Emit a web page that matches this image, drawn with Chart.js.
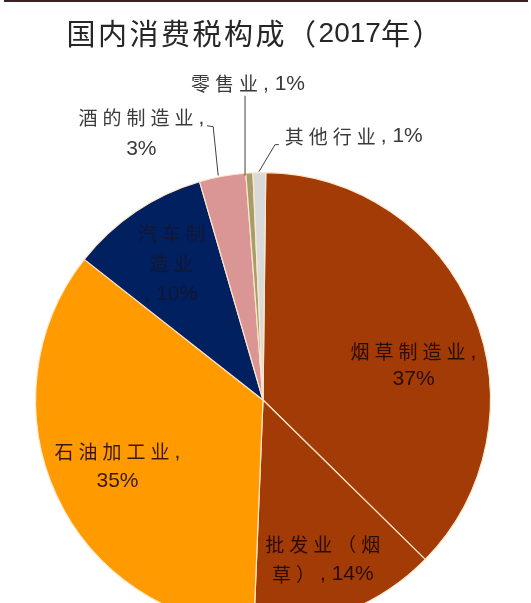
<!DOCTYPE html>
<html>
<head>
<meta charset="utf-8">
<script src="https://cdn.jsdelivr.net/npm/chart.js@4/dist/chart.umd.min.js"></script>
<style>
  html, body { margin: 0; padding: 0; background: #fff; overflow: hidden; }
  #wrap { position: relative; width: 531px; height: 640px; }
  #topline { position: absolute; left: 4px; right: 3px; top: 0; height: 2px; background: #3b2222; }
</style>
</head>
<body>
<div id="wrap">
  <canvas id="myChart" width="531" height="640"></canvas>
  <div id="topline"></div>
</div>
<script>
// data
const titleText = '国内消费税构成（2017年）';
const categories = ['烟草制造业', '批发业（烟草）', '石油加工业', '汽车制造业', '酒的制造业', '零售业', '其他行业'];
const shares = [37.2, 13.3, 35.0, 9.9, 3.3, 0.5, 0.9];   // slice sizes measured from the angles
const shownPct = [37, 14, 35, 10, 3, 1, 1];              // percentages printed on the labels

const colors = ['#a23b05', '#a23b05', '#ff9b00', '#002060', '#d99694', '#a59e6c', '#d9d9d9'];

// label layout, in units of the pie radius from its centre
const labelStyle = [
    { dx: 0.662, dy: -0.151, breaks: [6], lh: 27, color: '#2a0c04' },
    { dx: 0.263, dy: 0.702, breaks: [5], lh: 30, color: '#2a0c04' },
    { dx: -0.640, dy: 0.292, breaks: [6], lh: 29, color: '#3a1a05' },
    { dx: -0.404, dy: -0.599, breaks: [3, 5], lh: 30.5, color: '#121633' },
    { dx: -0.535, dy: -1.173, breaks: [6], lh: 31, color: '#3a3a3a' },
    { dx: -0.066, dy: -1.390, breaks: [], lh: 0, color: '#3a3a3a' },
    { dx: 0.399, dy: -1.158, breaks: [], lh: 0, color: '#3a3a3a' }
];
// leader lines for the small slices (radius units too)
const leaders = [
    [[-0.246, -1.206], [-0.219, -1.202], [-0.197, -0.987]],
    [[-0.079, -1.338], [-0.079, -0.987]],
    [[0.070, -1.123], [0.053, -1.123], [-0.018, -1.004]]
];

function isCJK(ch) {
    return /[\u2E80-\u9FFF\uFF00-\uFFEF]/.test(ch);
}

// draws text char by char: CJK glyphs spaced out, latin glyphs plain
function drawRun(ctx, text, cx, cy, o) {
    const parts = [];
    let total = 0;
    for (const ch of text) {
        const cjk = isCJK(ch);
        ctx.font = cjk ? `${o.cjkSize}px "Noto Sans CJK SC"` : `${o.latinSize}px "Liberation Sans"`;
        const w = ctx.measureText(ch).width;
        const adv = w + (cjk ? o.spacing : 0);
        parts.push({ ch, cjk, adv });
        total += adv;
    }
    if (parts.length && parts[parts.length - 1].cjk) total -= o.spacing;
    let x = cx - total / 2;
    ctx.fillStyle = o.color;
    ctx.textBaseline = 'middle';
    ctx.textAlign = 'left';
    for (const p of parts) {
        ctx.font = p.cjk ? `${o.cjkSize}px "Noto Sans CJK SC"` : `${o.latinSize}px "Liberation Sans"`;
        ctx.fillText(p.ch, x, cy);
        x += p.adv;
    }
}

const labelPlugin = {
    id: 'labelPlugin',
    afterDraw(chart) {
        const ctx = chart.ctx;
        const arc = chart.getDatasetMeta(0).data[0];
        const { x: cx, y: cy, outerRadius: R } = arc.getProps(['x', 'y', 'outerRadius'], true);
        ctx.save();

        // title
        drawRun(ctx, titleText, 254, 34, { cjkSize: 29, latinSize: 28, spacing: 2.5, color: '#262626' });

        // leader lines
        ctx.strokeStyle = '#404040';
        ctx.lineWidth = 1;
        leaders.forEach(pts => {
            ctx.beginPath();
            pts.forEach((p, i) => {
                const px = cx + p[0] * R, py = cy + p[1] * R;
                if (i === 0) ctx.moveTo(px, py); else ctx.lineTo(px, py);
            });
            ctx.stroke();
        });

        // slice labels
        categories.forEach((name, i) => {
            const st = labelStyle[i];
            const full = name + ', ' + shownPct[i] + '%';
            const lines = [];
            let start = 0;
            st.breaks.forEach(b => { lines.push(full.slice(start, b)); start = b; });
            lines.push(full.slice(start));
            const clean = lines.map(s => s.trim());
            const bx = cx + st.dx * R;
            const by = cy + st.dy * R - (clean.length - 1) * st.lh / 2;
            clean.forEach((s, k) => {
                drawRun(ctx, s, bx, by + k * st.lh, { cjkSize: 19, latinSize: 21, spacing: 5, color: st.color });
            });
        });
        ctx.restore();
    }
};

const ctx = document.getElementById('myChart').getContext('2d');
const consumptionChart = new Chart(ctx, {
    type: 'pie',
    data: {
        labels: categories,
        datasets: [{
            data: shares,
            backgroundColor: colors,
            borderColor: '#fde7cc',
            borderWidth: 1.2
        }]
    },
    options: {
        responsive: false,
        animation: false,
        rotation: 0.7,
        layout: { padding: { left: 35, right: 40, top: 172, bottom: 12 } },
        plugins: {
            legend: { display: false },
            tooltip: { enabled: false },
            title: { display: false }
        }
    },
    plugins: [labelPlugin]
});
</script>
</body>
</html>
